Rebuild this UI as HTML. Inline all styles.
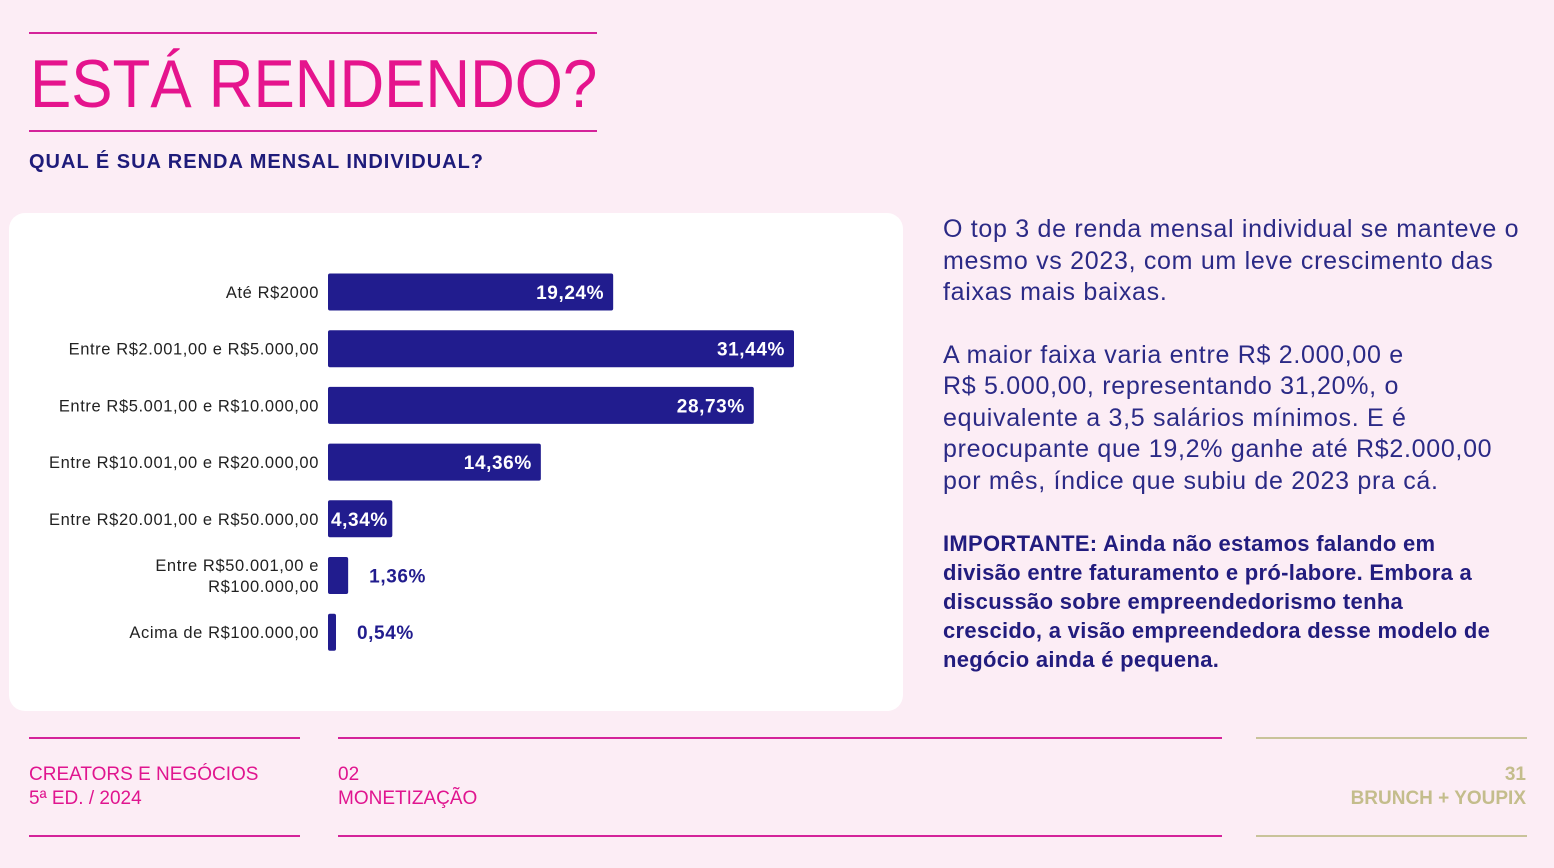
<!DOCTYPE html>
<html><head><meta charset="utf-8"><style>
*{margin:0;padding:0;box-sizing:border-box}
body{width:1554px;height:868px;background:#fcedf5;font-family:"Liberation Sans",sans-serif;position:relative;overflow:hidden}
.abs{position:absolute}
.pl{background:#d4239a;height:2px}
.ol{background:#c9c39a;height:2px}
.ft{font-size:19px;line-height:24px;color:#e0158f}
</style></head><body>
<div class="abs pl" style="left:29px;top:32px;width:568px"></div>
<div class="abs" style="left:30px;top:44px;font-size:68px;color:#e5148d;line-height:80px;transform:scaleX(0.91);transform-origin:left;white-space:nowrap">ESTÁ RENDENDO?</div>
<div class="abs pl" style="left:29px;top:130px;width:568px"></div>
<div class="abs" style="left:29px;top:150px;font-size:20px;font-weight:bold;color:#1e1b7a;line-height:24px;letter-spacing:1px">QUAL É SUA RENDA MENSAL INDIVIDUAL?</div>

<div class="abs" style="left:9px;top:213px;width:894px;height:498px;background:#fff;border-radius:16px">
<svg id="chart" width="894" height="498"></svg>
</div>

<div class="abs" style="left:943px;top:214px;width:600px;font-size:25px;line-height:31.5px;color:#2b2a86;letter-spacing:0.7px;white-space:nowrap">
<p>O top 3 de renda mensal individual se manteve o<br>mesmo vs 2023, com um leve crescimento das<br>faixas mais baixas.</p>
<p style="margin-top:31px">A maior faixa varia entre R$ 2.000,00 e<br>R$ 5.000,00, representando 31,20%, o<br>equivalente a 3,5 salários mínimos. E é<br>preocupante que 19,2% ganhe até R$2.000,00<br>por mês, índice que subiu de 2023 pra cá.</p>
<p style="margin-top:32px;font-size:22px;line-height:29px;font-weight:bold;color:#221c7e;letter-spacing:0.3px">IMPORTANTE: Ainda não estamos falando em<br>divisão entre faturamento e pró-labore. Embora a<br>discussão sobre empreendedorismo tenha<br>crescido, a visão empreendedora desse modelo de<br>negócio ainda é pequena.</p>
</div>

<div class="abs pl" style="left:29px;top:737px;width:271px"></div>
<div class="abs pl" style="left:29px;top:835px;width:271px"></div>
<div class="abs pl" style="left:338px;top:737px;width:884px"></div>
<div class="abs pl" style="left:338px;top:835px;width:884px"></div>
<div class="abs ol" style="left:1256px;top:737px;width:271px"></div>
<div class="abs ol" style="left:1256px;top:835px;width:271px"></div>
<div class="abs ft" style="left:29px;top:763px">CREATORS E NEGÓCIOS<br>5ª ED. / 2024</div>
<div class="abs ft" style="left:338px;top:763px">02<br>MONETIZAÇÃO</div>
<div class="abs ft" style="right:28px;top:763px;text-align:right;color:#c4bd8c;font-weight:bold">31<br>BRUNCH + YOUPIX</div>

<script>
const categories=["Até R$2000","Entre R$2.001,00 e R$5.000,00","Entre R$5.001,00 e R$10.000,00","Entre R$10.001,00 e R$20.000,00","Entre R$20.001,00 e R$50.000,00","Entre R$50.001,00 e|R$100.000,00","Acima de R$100.000,00"];
const values=[19.24,31.44,28.73,14.36,4.34,1.36,0.54];
const valueLabels=["19,24%","31,44%","28,73%","14,36%","4,34%","1,36%","0,54%"];
const svg=document.getElementById('chart');
const NS='http://www.w3.org/2000/svg';
const x0=319,pxPer=466/31.44;
const xScale=v=>v*pxPer;
const yScale=i=>79+i*56.7;
const bh=37;
function mk(t,a){const e=document.createElementNS(NS,t);for(const k in a)e.setAttribute(k,a[k]);svg.appendChild(e);return e;}
categories.forEach((c,i)=>{
  const cy=yScale(i),w=Math.max(xScale(values[i]),3);
  const r=mk('rect',{x:x0,y:cy-bh/2,width:w,height:bh,rx:2,fill:'#211c8e'});
  
  
  const lines=c.split('|');
  lines.forEach((ln,j)=>{
    const t=mk('text',{x:x0-9,y:cy+6+(j-(lines.length-1)/2)*21,'text-anchor':'end','font-size':16.5,'letter-spacing':0.6,fill:'#222','font-family':'Liberation Sans, sans-serif'});
    t.textContent=ln;
    
    
  });
  const inside=values[i]>=3;
  const v=mk('text',{x:inside?x0+w-9:x0+w+21,y:cy+7,'text-anchor':inside?'end':'start','font-size':19,'letter-spacing':0.6,'font-weight':'bold',fill:inside?'#fff':'#211c8e','font-family':'Liberation Sans, sans-serif'});
  if(inside&&values[i]<6){v.setAttribute('text-anchor','start');v.setAttribute('x',x0+3);}
  v.textContent=valueLabels[i];
  
  
});
</script>
</body></html>
